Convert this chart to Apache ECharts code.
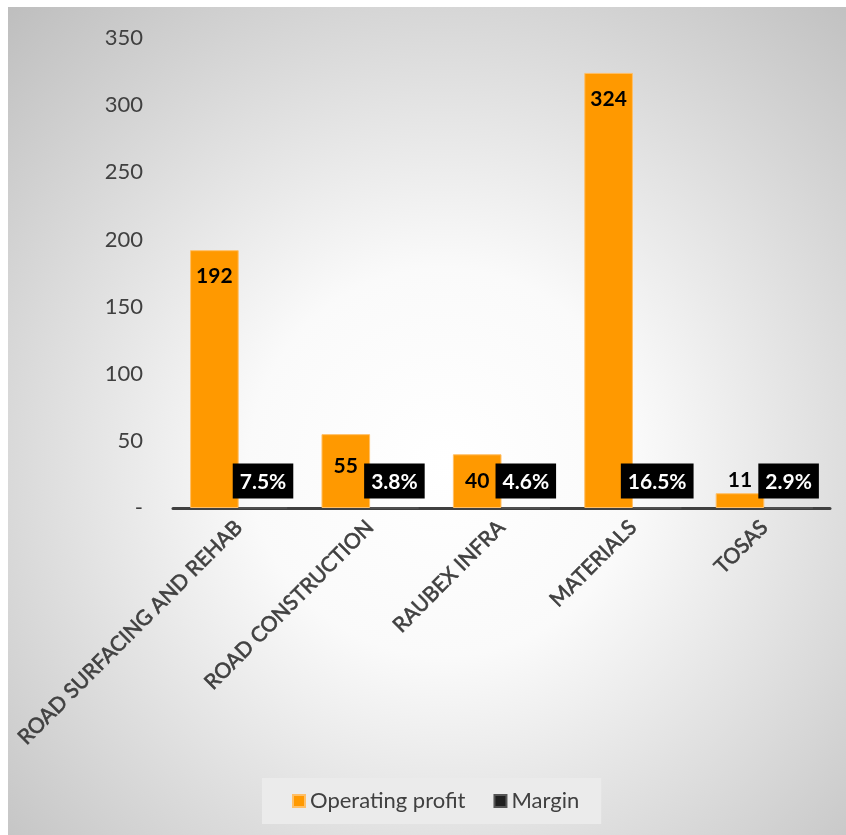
<!DOCTYPE html>
<html>
<head>
<meta charset="utf-8">
<title>Operating profit and margin by segment</title>
<script src="https://cdn.jsdelivr.net/npm/echarts@6/dist/echarts.min.js"></script>
<style>
  html, body { margin: 0; padding: 0; background: #ffffff; }
  #chart { position: absolute; left: 8px; top: 7px; width: 838px; height: 828px; }
</style>
</head>
<body>
<div id="chart"></div>
<script>
// Segments and their results
const categories = ['ROAD SURFACING AND REHAB', 'ROAD CONSTRUCTION', 'RAUBEX INFRA', 'MATERIALS', 'TOSAS'];
const operatingProfit = [192, 55, 40, 324, 11];
const marginPct = [7.5, 3.8, 4.6, 16.5, 2.9];
const yTicks = [0, 50, 100, 150, 200, 250, 300, 350];

const FONT = 'Lato, "Open Sans", sans-serif';
const TEXT = '#404040';

// Profit labels sit inside the top of each bar; the short bars get nudged
const profitLabelTweaks = {
  1: { position: 'insideTop', distance: 22 },
  4: { position: 'top', distance: 2 }
};

const profitData = operatingProfit.map((v, i) => {
  const item = { value: v };
  if (profitLabelTweaks[i]) item.label = profitLabelTweaks[i];
  return item;
});

// Margin is plotted as a fraction on the same axis, so its bars stay flat
const marginData = marginPct.map(p => p / 100);

const chart = echarts.init(document.getElementById('chart'));
chart.setOption({
  animation: false,
  backgroundColor: {
    type: 'radial', x: 0.52, y: 0.55, r: 0.78,
    colorStops: [
      { offset: 0, color: '#ffffff' },
      { offset: 0.3, color: '#fafafa' },
      { offset: 1, color: '#bcbcbc' }
    ]
  },
  textStyle: { fontFamily: FONT },
  grid: { left: 165, right: 16, top: 31, bottom: 327, containLabel: false },
  legend: {
    left: 254, bottom: 11,
    data: ['Operating profit', 'Margin'],
    icon: 'rect', itemWidth: 12, itemHeight: 12, itemGap: 28,
    padding: [12, 22, 12, 30],
    backgroundColor: '#ebebeb',
    textStyle: { color: TEXT, fontSize: 22, fontFamily: FONT }
  },
  xAxis: {
    type: 'category',
    data: categories,
    axisLine: { lineStyle: { color: '#404040', width: 3 } },
    axisTick: { show: false },
    axisLabel: {
      rotate: 45, color: TEXT, fontSize: 21, margin: 16, fontFamily: FONT, interval: 0,
      textBorderColor: TEXT, textBorderWidth: 0.6
    }
  },
  yAxis: {
    type: 'value',
    min: yTicks[0], max: yTicks[yTicks.length - 1], interval: 50,
    axisLine: { show: false },
    axisTick: { show: false },
    splitLine: { show: false },
    axisLabel: {
      color: TEXT, fontSize: 22, margin: 30, fontFamily: FONT,
      formatter: v => (v === 0 ? '-' : String(v))
    }
  },
  series: [
    {
      name: 'Operating profit',
      type: 'bar',
      data: profitData,
      barGap: '0%',
      barCategoryGap: '26%',
      itemStyle: { color: '#ff9900', borderColor: '#ffbf66', borderWidth: 1 },
      label: {
        show: true, position: 'insideTop', distance: 16,
        color: '#000000', fontWeight: 'bold', fontSize: 21, fontFamily: FONT
      }
    },
    {
      name: 'Margin',
      type: 'bar',
      data: marginData,
      itemStyle: { color: '#1f1f1f', borderColor: '#555555', borderWidth: 1 },
      label: {
        show: true, position: 'top', distance: 9,
        color: '#ffffff', fontWeight: 'bold', fontSize: 21, fontFamily: FONT,
        backgroundColor: '#000000',
        padding: [8, 7, 6, 7],
        formatter: p => (p.value * 100).toFixed(1) + '%'
      }
    }
  ]
});
</script>
</body>
</html>
